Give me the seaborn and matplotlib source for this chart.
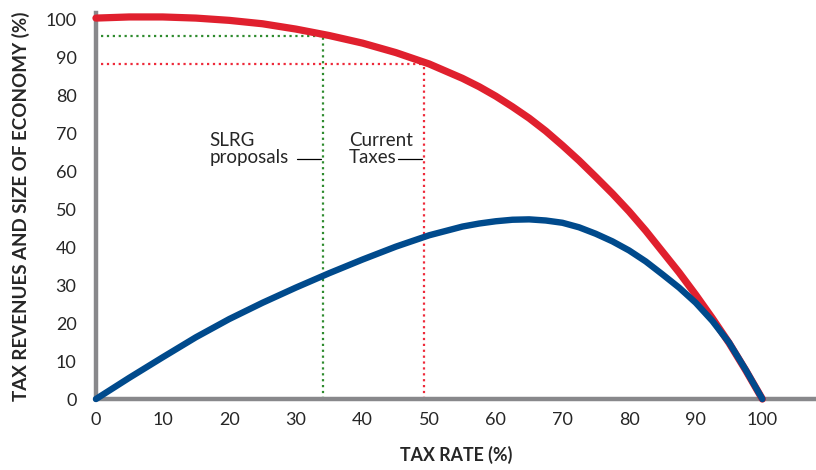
import pandas as pd
import matplotlib
matplotlib.use('Agg')
import matplotlib.pyplot as plt
import seaborn as sns

# --- Data ---
tax_rate = [0, 5, 10, 15, 20, 25, 30, 35, 40, 45, 50, 55, 57.5, 60, 62.5, 65, 67.5,
            70, 72.5, 75, 77.5, 80, 82.5, 85, 87.5, 90, 92.5, 95, 97.5, 100]
economy_size = [100.5, 100.8, 100.8, 100.5, 99.9, 99.0, 97.6, 95.9, 93.9, 91.4, 88.4,
                84.6, 82.4, 79.9, 77.1, 74.1, 70.7, 66.9, 62.9, 58.6, 54.2, 49.5,
                44.4, 38.9, 33.4, 27.5, 21.3, 14.8, 7.6, 0.0]
tax_revenue = [0.0, 5.6, 11.0, 16.3, 21.1, 25.4, 29.4, 33.2, 36.8, 40.2, 43.2,
               45.5, 46.3, 46.9, 47.3, 47.4, 47.1, 46.5, 45.3, 43.6, 41.6, 39.2,
               36.3, 32.9, 29.4, 25.4, 20.6, 14.9, 7.7, 0.0]

slrg_rate, slrg_economy = 34.0, 95.8
current_rate, current_economy = 49.3, 88.4
x_ticks = list(range(0, 101, 10))
y_ticks = list(range(0, 101, 10))

RED = '#e0202e'
BLUE = '#004a8c'
GREEN_DOT = '#2e8b2e'
RED_DOT = '#ee2a3a'
GREY = '#88888b'

sns.set_style('white')
plt.rcParams['font.family'] = ['Lato', 'DejaVu Sans']

df = pd.DataFrame({'rate': tax_rate, 'economy': economy_size, 'revenue': tax_revenue})

fig = plt.figure(figsize=(8.16, 4.70), dpi=100)
ax = fig.add_axes([0.1176, 0.151, 0.882, 0.821])

# reference dotted lines
ax.plot([slrg_rate, slrg_rate], [0, slrg_economy], ls=':', color=GREEN_DOT, lw=1.6)
ax.plot([0.8, slrg_rate], [slrg_economy, slrg_economy], ls=':', color=GREEN_DOT, lw=1.6)
ax.plot([current_rate, current_rate], [0, current_economy], ls=':', color=RED_DOT, lw=1.6)
ax.plot([0.8, current_rate], [current_economy, current_economy], ls=':', color=RED_DOT, lw=1.6)

# curves
sns.lineplot(data=df, x='rate', y='economy', ax=ax, color=RED, lw=5.2,
             solid_capstyle='round', solid_joinstyle='round', clip_on=False, zorder=3)
sns.lineplot(data=df, x='rate', y='revenue', ax=ax, color=BLUE, lw=4.6,
             solid_capstyle='round', solid_joinstyle='round', clip_on=False, zorder=4)

# labels for the dotted lines
label_y = 63.4
ax.text(17.0, 66.0, 'SLRG\nproposals', fontsize=13.5, ha='left', va='center', linespacing=1.05)
ax.plot([slrg_rate - 3.9, slrg_rate - 0.3], [label_y, label_y], color='black', lw=0.9)
ax.text(38.0, 66.0, 'Current\nTaxes', fontsize=13.5, ha='left', va='center', linespacing=1.05)
ax.plot([current_rate - 4.0, current_rate - 0.4], [label_y, label_y], color='black', lw=0.9)

ax.set_xlim(0, 108)
ax.set_ylim(0, 101.8)
ax.set_xticks(x_ticks)
ax.set_yticks(y_ticks)
ax.tick_params(axis='both', length=0, labelsize=13)
ax.tick_params(axis='x', pad=9)
ax.tick_params(axis='y', pad=14)

for side in ['top', 'right']:
    ax.spines[side].set_visible(False)
for side in ['left', 'bottom']:
    ax.spines[side].set_color(GREY)
    ax.spines[side].set_linewidth(3.2)

ax.set_xlabel('TAX RATE (%)', fontsize=12.8, fontweight='bold', labelpad=13)
ax.set_ylabel('TAX REVENUES AND SIZE OF ECONOMY (%)', fontsize=13.5, fontweight='bold', labelpad=11)

fig.savefig('out.png', dpi=100)
